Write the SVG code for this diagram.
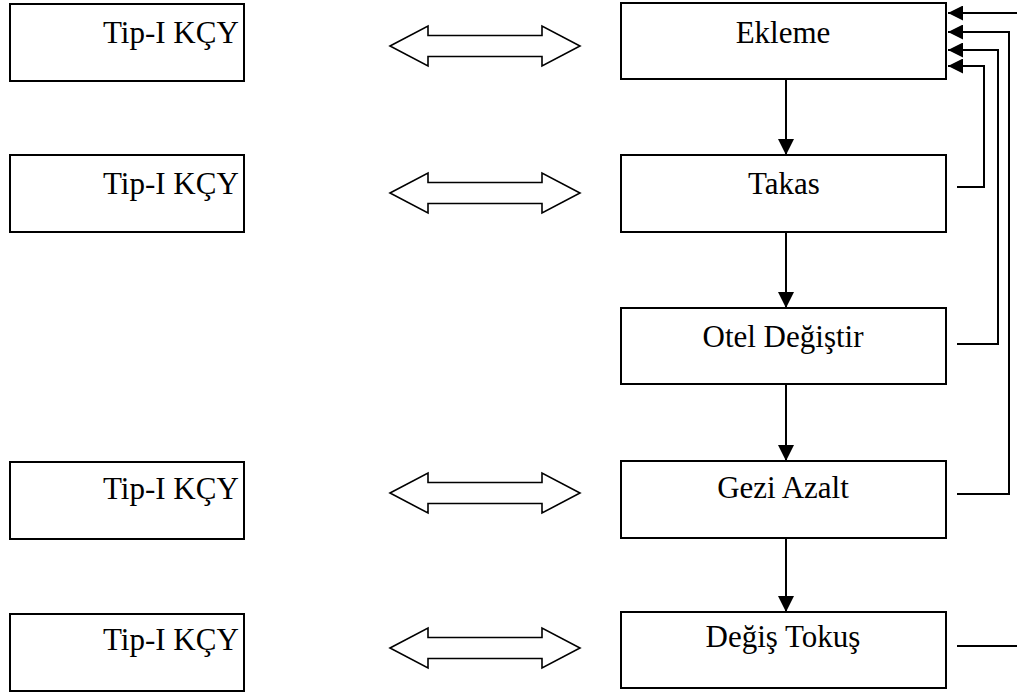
<svg xmlns="http://www.w3.org/2000/svg" width="1017" height="695" viewBox="0 0 1017 695">
  <style>
    .box { fill: #fff; stroke: #000; stroke-width: 2; }
    .lbl { font-family: "Liberation Serif", "Times New Roman", serif; font-size: 31px; fill: #000; }
    .mid { text-anchor: middle; }
    .dbl { fill: #fff; stroke: #000; stroke-width: 1.6; stroke-linejoin: miter; }
    .wire { fill: none; stroke: #000; stroke-width: 2; }
  </style>
  <defs>
    <marker id="head" viewBox="0 0 16 16" refX="16" refY="8" markerWidth="16" markerHeight="16" markerUnits="userSpaceOnUse" orient="auto">
      <path d="M0,0 L16,8 L0,16 Z" fill="#000"/>
    </marker>
    <marker id="headSm" viewBox="0 0 15 15" refX="15" refY="7.5" markerWidth="15" markerHeight="15" markerUnits="userSpaceOnUse" orient="auto">
      <path d="M0,0 L15,7.5 L0,15 Z" fill="#000"/>
    </marker>
    <path id="twoWay" d="M0,0 L38,-20 L38,-10.5 L152,-10.5 L152,-20 L190,0 L152,20 L152,10.5 L38,10.5 L38,20 Z"/>
  </defs>

  <!-- left column -->
  <g id="kcy1"><rect class="box" x="10" y="4" width="234" height="77"/><text class="lbl" x="103" y="43">Tip-I KÇY</text></g>
  <g id="kcy2"><rect class="box" x="10" y="155" width="234" height="77"/><text class="lbl" x="103" y="194">Tip-I KÇY</text></g>
  <g id="kcy3"><rect class="box" x="10" y="462" width="234" height="77"/><text class="lbl" x="103" y="499">Tip-I KÇY</text></g>
  <g id="kcy4"><rect class="box" x="10" y="614" width="234" height="77"/><text class="lbl" x="103" y="650">Tip-I KÇY</text></g>

  <!-- right column -->
  <g id="ekleme"><rect class="box" x="621" y="3" width="325" height="76"/><text class="lbl mid" x="783" y="43">Ekleme</text></g>
  <g id="takas"><rect class="box" x="621" y="155" width="325" height="77"/><text class="lbl mid" x="784" y="194">Takas</text></g>
  <g id="otel"><rect class="box" x="621" y="308" width="325" height="76"/><text class="lbl mid" x="783" y="347">Otel Değiştir</text></g>
  <g id="gezi"><rect class="box" x="621" y="461" width="325" height="77"/><text class="lbl mid" x="783" y="498">Gezi Azalt</text></g>
  <g id="degis"><rect class="box" x="621" y="612" width="325" height="76"/><text class="lbl mid" x="783" y="647">Değiş Tokuş</text></g>

  <g id="connectors">
    <!-- two-way links -->
    <use href="#twoWay" class="dbl" transform="translate(390,46)"/>
    <use href="#twoWay" class="dbl" transform="translate(390,193)"/>
    <use href="#twoWay" class="dbl" transform="translate(390,493)"/>
    <use href="#twoWay" class="dbl" transform="translate(390,648)"/>

    <!-- sequence down the chain -->
    <line class="wire" x1="786" y1="79" x2="786" y2="155" marker-end="url(#head)"/>
    <line class="wire" x1="786" y1="232" x2="786" y2="308" marker-end="url(#head)"/>
    <line class="wire" x1="786" y1="384" x2="786" y2="461" marker-end="url(#head)"/>
    <line class="wire" x1="786" y1="538" x2="786" y2="612" marker-end="url(#head)"/>

    <!-- feedback loops back to Ekleme -->
    <polyline class="wire" points="1017,13 948,13" marker-end="url(#headSm)"/>
    <polyline class="wire" points="957,494 1009,494 1009,32 948,32" marker-end="url(#headSm)"/>
    <polyline class="wire" points="957,344 998,344 998,50 948,50" marker-end="url(#headSm)"/>
    <polyline class="wire" points="957,187 984,187 984,66 948,66" marker-end="url(#headSm)"/>
    <line class="wire" x1="957" y1="646" x2="1017" y2="646"/>
  </g>
</svg>
